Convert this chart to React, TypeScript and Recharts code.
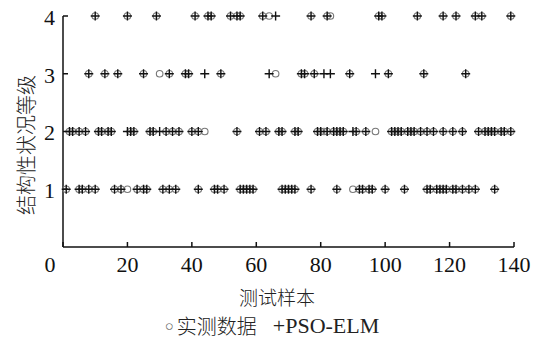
import { ScatterChart, Scatter, XAxis, YAxis } from 'recharts';

// samples where the PSO-ELM result equals the measured grade
const level1 = [1, 5, 6, 8, 10, 16, 18, 23, 25, 26, 31, 33, 35, 42, 47, 48, 50, 55, 56, 57, 58, 59, 68, 69, 70, 71, 72, 77, 85, 92, 93, 95, 96, 100, 106, 113, 114, 116, 117, 118, 119, 121, 122, 124, 126, 128, 134];
const level2 = [2, 3, 5, 7, 11, 12, 14, 15, 21, 22, 27, 28, 32, 34, 36, 40, 42, 54, 61, 63, 67, 68, 72, 73, 79, 80, 82, 84, 85, 86, 87, 91, 94, 102, 103, 104, 105, 107, 108, 109, 111, 113, 115, 118, 121, 124, 129, 131, 132, 133, 134, 136, 137, 139];
const level3 = [8, 13, 17, 25, 33, 38, 39, 49, 74, 75, 78, 89, 101, 112, 125];
const level4 = [10, 20, 29, 41, 45, 46, 52, 54, 55, 62, 77, 82, 98, 99, 110, 118, 122, 128, 130, 139];

// samples where they differ
const missSample = [20, 30, 44, 64, 66, 81, 83, 90, 97];
const missActual = [1, 3, 2, 4, 3, 2, 4, 1, 2];
const missPredicted = [2, 2, 3, 3, 4, 3, 3, 2, 3];

const xTicks = [0, 20, 40, 60, 80, 100, 120, 140];
const yTicks = [1, 2, 3, 4];

const matched = [
  ...level1.map((x) => ({ x, y: 1 })),
  ...level2.map((x) => ({ x, y: 2 })),
  ...level3.map((x) => ({ x, y: 3 })),
  ...level4.map((x) => ({ x, y: 4 })),
];
const actualData = [...matched, ...missSample.map((x, i) => ({ x, y: missActual[i] }))];
const predData = [...matched, ...missSample.map((x, i) => ({ x, y: missPredicted[i] }))];

const serif = "'Liberation Serif', 'DejaVu Serif', serif";
const cjk = "'Noto Sans CJK SC', sans-serif";

const Ring = (p: any) => (
  <circle cx={p.cx} cy={p.cy} r={3.3} fill="none" stroke="#777" strokeWidth={1.1} />
);

const Cross = (p: any) => (
  <path
    d={`M${p.cx - 4.5},${p.cy}H${p.cx + 4.5}M${p.cx},${p.cy - 4.5}V${p.cy + 4.5}`}
    stroke="#111"
    strokeWidth={1.4}
    fill="none"
  />
);

const XTick = (p: any) => {
  const v = p.payload.value;
  return (
    <text x={v === 0 ? p.x - 13 : p.x} y={p.y} dy="0.71em" textAnchor="middle" fill="#111" fontFamily={serif} fontSize={22}>
      {v}
    </text>
  );
};

const YTick = (p: any) => (
  <text x={p.x} y={p.y} dy="0.4em" textAnchor="end" fill="#111" fontFamily={serif} fontSize={22}>
    {p.payload.value}
  </text>
);

export default function App() {
  return (
    <div style={{ position: 'absolute', left: 0, top: 0, width: 535, height: 342, background: '#fff' }}>
      <ScatterChart width={535} height={342} margin={{ top: 16, right: 21, bottom: 65, left: 0 }}>
        <XAxis
          type="number"
          dataKey="x"
          domain={[0, 140]}
          ticks={xTicks}
          interval={0}
          height={30}
          tickSize={-5}
          tickMargin={14}
          axisLine={{ stroke: '#111', strokeWidth: 1.5 }}
          tickLine={{ stroke: '#111', strokeWidth: 1.5 }}
          tick={<XTick />}
        />
        <YAxis
          type="number"
          dataKey="y"
          domain={[0, 4]}
          ticks={yTicks}
          interval={0}
          width={63}
          tickSize={-5}
          tickMargin={13}
          axisLine={{ stroke: '#111', strokeWidth: 1.5 }}
          tickLine={{ stroke: '#111', strokeWidth: 1.5 }}
          tick={<YTick />}
        />
        <Scatter name="实测数据" data={actualData} shape={Ring} isAnimationActive={false} />
        <Scatter name="PSO-ELM" data={predData} shape={Cross} isAnimationActive={false} />
      </ScatterChart>
      <div
        style={{
          position: 'absolute',
          left: 26,
          top: 145,
          transform: 'translate(-50%, -50%) rotate(-90deg)',
          whiteSpace: 'nowrap',
          fontFamily: cjk,
          fontSize: 20,
          fontWeight: 300,
          color: '#222',
          lineHeight: 1,
        }}
      >
        结构性状况等级
      </div>
      <div
        style={{
          position: 'absolute',
          left: 277,
          top: 296,
          transform: 'translate(-50%, -50%)',
          whiteSpace: 'nowrap',
          fontFamily: cjk,
          fontSize: 19,
          fontWeight: 300,
          color: '#222',
          lineHeight: 1,
        }}
      >
        测试样本
      </div>
      <div
        style={{
          position: 'absolute',
          left: 272,
          top: 326,
          transform: 'translate(-50%, -50%)',
          whiteSpace: 'nowrap',
          color: '#222',
          lineHeight: 1,
          display: 'flex',
          alignItems: 'center',
        }}
      >
        <span style={{ fontFamily: serif, fontSize: 15, color: '#666', marginRight: 3 }}>○</span>
        <span style={{ fontFamily: cjk, fontSize: 20, fontWeight: 300 }}>实测数据</span>
        <span style={{ fontFamily: serif, fontSize: 22, marginLeft: 16 }}>+PSO-ELM</span>
      </div>
    </div>
  );
}
